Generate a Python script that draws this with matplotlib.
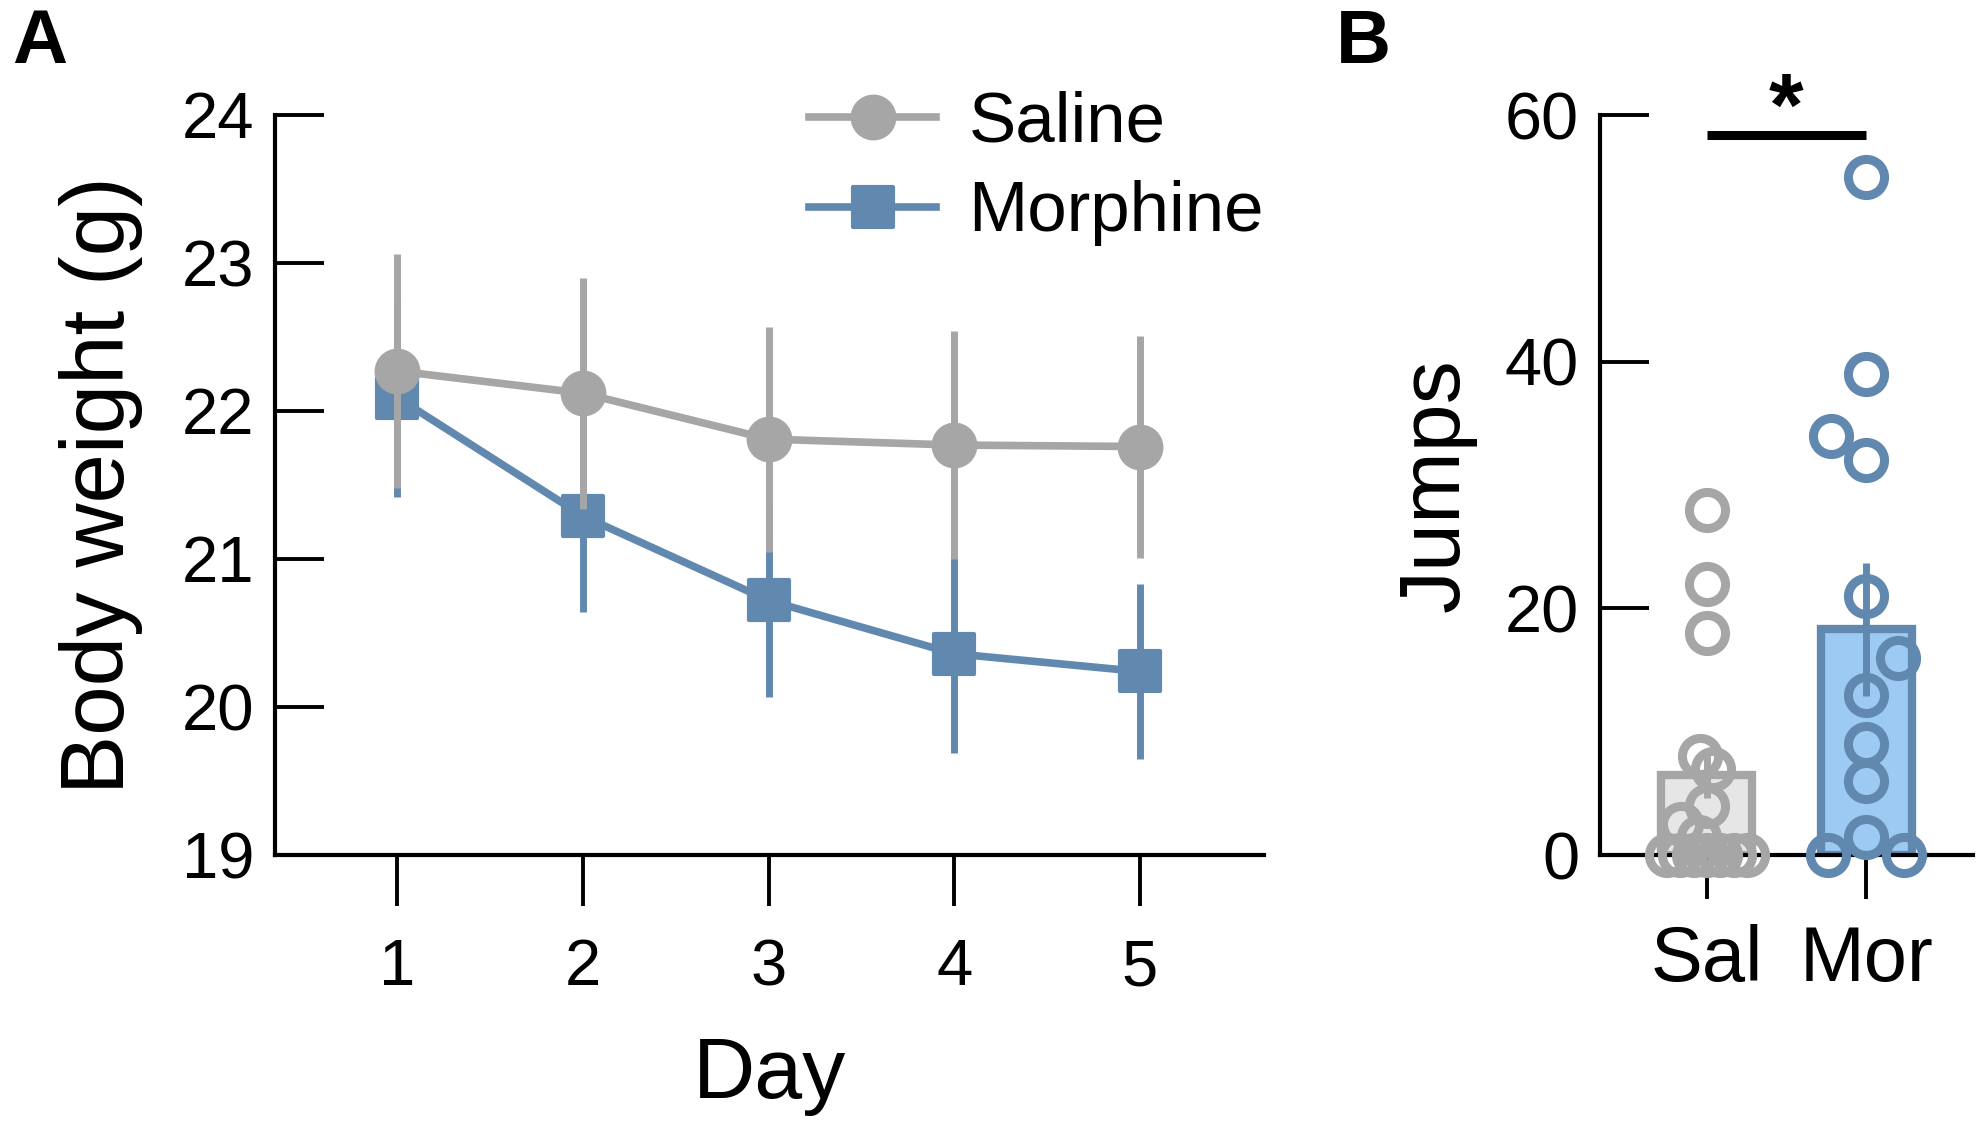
import matplotlib
matplotlib.use("Agg")
import matplotlib.pyplot as plt
from matplotlib.markers import MarkerStyle
import numpy as np

plt.rcParams['font.family'] = ['Liberation Sans', 'DejaVu Sans']

# panel A: body weight (mean, sem) per day
days = [1, 2, 3, 4, 5]
saline_weight = [22.27, 22.12, 21.81, 21.77, 21.76]
saline_sem = [0.79, 0.78, 0.76, 0.77, 0.75]
morphine_weight = [22.09, 21.29, 20.72, 20.36, 20.24]
morphine_sem = [0.67, 0.65, 0.65, 0.67, 0.59]

# panel B: jumps per animal, plus group mean and sem
groups = ['Sal', 'Mor']
sal_jumps = [28, 22, 18, 8, 7, 4, 2.5, 1.5, 0, 0, 0, 0, 0, 0, 0]
mor_jumps = [55, 39, 34, 32, 21, 16, 13, 9, 6, 1.5, 0, 0]
jump_mean = [6.5, 18.3]
jump_sem = [1.9, 5.4]
# horizontal scatter of the points around each bar
sal_spread = [0, 0, 0, -0.04, 0.04, 0, -0.16, -0.05, -0.25, -0.17, -0.08, 0, 0.08, 0.17, 0.25]
mor_spread = [0, 0, -0.22, 0, 0, 0.2, 0, 0, 0, 0, -0.24, 0.24]

gray = '#a6a6a6'
blue = '#6189b0'
gray_fill = '#e6e6e6'
blue_fill = '#9dcaf3'

W, H = 1983, 1142
fig = plt.figure(figsize=(W / 100, H / 100), dpi=100)

axA = fig.add_axes([275 / W, 1 - 855 / H, (1264 - 275) / W, 740 / H])
axB = fig.add_axes([1600 / W, 1 - 855 / H, (1973 - 1600) / W, 740 / H])

# ---- panel A ----
axA.errorbar(days, morphine_weight, yerr=morphine_sem, fmt='none', ecolor=blue,
             elinewidth=5, capsize=0, zorder=1)
axA.plot(days, morphine_weight, color=blue, lw=5.5,
         marker=MarkerStyle('s', joinstyle='round'), ms=29, mew=3, mec=blue,
         label='Morphine', zorder=2)
axA.errorbar(days, saline_weight, yerr=saline_sem, fmt='none', ecolor=gray,
             elinewidth=5, capsize=0, zorder=3)
axA.plot(days, saline_weight, color=gray, lw=5.5, marker='o', ms=32,
         label='Saline', zorder=4)

axA.set_xlim(0.34, 5.67)
axA.set_ylim(19, 24)
axA.set_xticks(days)
axA.set_yticks([19, 20, 21, 22, 23, 24])
axA.tick_params(axis='y', direction='in', length=35, width=2.8, pad=15, labelsize=47)
axA.tick_params(axis='x', direction='out', length=37, width=2.8, pad=23, labelsize=47)
for s in ['top', 'right']:
    axA.spines[s].set_visible(False)
for s in ['left', 'bottom']:
    axA.spines[s].set_linewidth(3)
axA.set_xlabel('Day', fontsize=62, labelpad=27)
axA.set_ylabel('Body weight (g)', fontsize=64, labelpad=28)

h, l = axA.get_legend_handles_labels()
axA.legend(h[::-1], l[::-1], loc='upper left', bbox_to_anchor=(809 / W, 1 - 91 / H),
           bbox_transform=fig.transFigure, frameon=False, fontsize=51,
           handlelength=1.8, handletextpad=0.45, labelspacing=0.33,
           borderpad=0, borderaxespad=0)

# ---- panel B ----
axB.bar([0, 1], jump_mean, width=0.57, color=[gray_fill, blue_fill],
        edgecolor=[gray, blue], linewidth=6, zorder=1)
axB.plot(np.array(sal_spread) + 0, sal_jumps, 'o', mfc='none', mec=gray, ms=26,
         mew=6.5, clip_on=False, zorder=3)
axB.plot(np.array(mor_spread) + 1, mor_jumps, 'o', mfc='none', mec=blue, ms=26,
         mew=6.5, clip_on=False, zorder=3)
axB.errorbar([0], [jump_mean[0]], yerr=[jump_sem[0]], fmt='none', ecolor=gray,
             elinewidth=5, capsize=0, zorder=4)
axB.errorbar([1], [jump_mean[1]], yerr=[jump_sem[1]], fmt='none', ecolor=blue,
             elinewidth=5, capsize=0, zorder=4)

# significance bracket
axB.plot([0, 1], [58.4, 58.4], color='black', lw=6.5, clip_on=False,
         solid_capstyle='butt')
axB.text(0.5, 58.4, '*', ha='center', va='baseline', fontsize=64,
         fontweight='bold')

axB.set_xlim(-0.67, 1.67)
axB.set_ylim(0, 60)
axB.set_xticks([0, 1])
axB.set_xticklabels(groups)
axB.set_yticks([0, 20, 40, 60])
axB.tick_params(axis='y', direction='in', length=35, width=2.8, pad=15, labelsize=48)
axB.tick_params(axis='x', direction='out', length=32, width=2.8, pad=18, labelsize=56)
for s in ['top', 'right']:
    axB.spines[s].set_visible(False)
for s in ['left', 'bottom']:
    axB.spines[s].set_linewidth(3)
axB.set_ylabel('Jumps', fontsize=62, labelpad=20)

fig.text(12 / W, 1 - 63 / H, 'A', fontsize=55, fontweight='bold', ha='left', va='baseline')
fig.text(1336 / W, 1 - 63 / H, 'B', fontsize=55, fontweight='bold', ha='left', va='baseline')

fig.savefig('out.png', dpi=100)
